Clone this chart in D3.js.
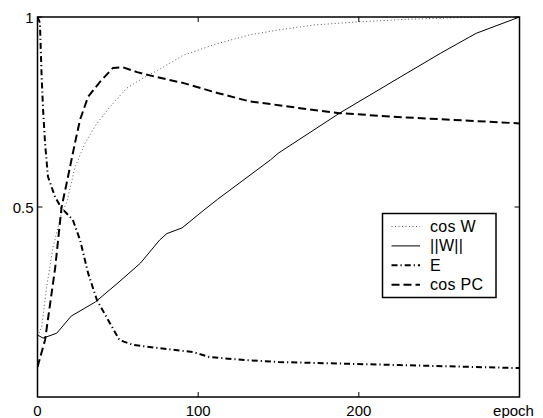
<!DOCTYPE html>
<html>
<head>
<meta charset="utf-8">
<script src="https://cdn.jsdelivr.net/npm/d3@7"></script>
<style>
  body { margin: 0; background: #fff; }
  text { font-family: "Liberation Sans", Arial, sans-serif; fill: #000; }
</style>
</head>
<body>
<svg id="chart" width="543" height="418"></svg>
<script>
// ---- data ----
const cosWEpoch = [0, 2.6, 5.7, 9.7, 15, 18, 23.4, 29.6, 37, 45, 55.6, 66, 75, 91, 112, 132, 150, 172, 199, 230, 268, 300];
const cosWVal   = [0.16, 0.184, 0.29, 0.395, 0.484, 0.51, 0.605, 0.668, 0.72, 0.763, 0.813, 0.84, 0.86, 0.90, 0.93, 0.953, 0.966, 0.979, 0.987, 0.994, 0.999, 1.0];

const normWEpoch = [0, 3.5, 12, 21, 36, 50, 64, 76, 80.5, 90, 103, 112, 145, 150, 188, 225, 251, 273, 300];
const normWVal   = [0.163, 0.155, 0.168, 0.213, 0.25, 0.30, 0.352, 0.413, 0.43, 0.445, 0.49, 0.52, 0.624, 0.642, 0.747, 0.84, 0.905, 0.957, 1.0];

const eEpoch = [0, 1.5, 2.6, 3.5, 4.7, 6.5, 11, 15, 22, 26.5, 31.5, 37, 45, 51, 59.5, 75, 97, 107, 130, 150, 225, 300];
const eVal   = [1.0, 0.985, 0.84, 0.755, 0.668, 0.58, 0.526, 0.497, 0.466, 0.413, 0.326, 0.255, 0.195, 0.15, 0.137, 0.129, 0.118, 0.105, 0.097, 0.092, 0.084, 0.076];

const cosPCEpoch = [0, 4.7, 11, 15, 18, 23.4, 26.5, 31.5, 39, 47, 53, 62, 74, 91, 112, 132, 150, 172, 188, 224, 300];
const cosPCVal   = [0.079, 0.15, 0.34, 0.5, 0.56, 0.67, 0.73, 0.79, 0.83, 0.866, 0.868, 0.855, 0.842, 0.826, 0.80, 0.778, 0.768, 0.755, 0.747, 0.737, 0.72];

const xTicks = [0, 100, 200, 300];
const xTickLabels = ["0", "100", "200", "epoch"];
const yTicks = [0.5, 1];
const yTickLabels = ["0.5", "1"];

const seriesNames = ["cos W", "||W||", "E", "cos PC"];

// ---- layout ----
const svg = d3.select("#chart");
const plotLeft = 37.5, plotRight = 519.5, plotTop = 17, plotBottom = 397;

const x = d3.scaleLinear().domain([0, 300]).range([plotLeft, plotRight]);
const y = d3.scaleLinear().domain([0, 1]).range([plotBottom, plotTop]);

// line styles, in legend order
const styles = [
    { width: 1,   dash: "1,2.5",      colour: "#555" },
    { width: 1,   dash: null,         colour: "#000" },
    { width: 2,   dash: "6,3,1.2,3",  colour: "#000" },
    { width: 2,   dash: "8,4",        colour: "#000" }
];

const series = [
    d3.zip(cosWEpoch, cosWVal),
    d3.zip(normWEpoch, normWVal),
    d3.zip(eEpoch, eVal),
    d3.zip(cosPCEpoch, cosPCVal)
];

svg.append("clipPath").attr("id", "plotClip")
    .append("rect")
    .attr("x", plotLeft).attr("y", plotTop)
    .attr("width", plotRight - plotLeft).attr("height", plotBottom - plotTop);

const line = d3.line().x(d => x(d[0])).y(d => y(d[1]));

svg.append("g")
    .attr("clip-path", "url(#plotClip)")
    .selectAll("path")
    .data(series)
    .enter()
    .append("path")
    .attr("d", line)
    .attr("fill", "none")
    .attr("stroke", (d, i) => styles[i].colour)
    .attr("stroke-width", (d, i) => styles[i].width)
    .attr("stroke-dasharray", (d, i) => styles[i].dash);

// frame
svg.append("rect")
    .attr("x", plotLeft).attr("y", plotTop)
    .attr("width", plotRight - plotLeft).attr("height", plotBottom - plotTop)
    .attr("fill", "none")
    .attr("stroke", "#000")
    .attr("stroke-width", 1.5);

// inward ticks on all four sides
const tickLen = 5;
const ticks = svg.append("g").attr("stroke", "#000").attr("stroke-width", 1);
xTicks.forEach(t => {
    ticks.append("line").attr("x1", x(t)).attr("x2", x(t)).attr("y1", plotBottom).attr("y2", plotBottom - tickLen);
    ticks.append("line").attr("x1", x(t)).attr("x2", x(t)).attr("y1", plotTop).attr("y2", plotTop + tickLen);
});
yTicks.forEach(t => {
    ticks.append("line").attr("x1", plotLeft).attr("x2", plotLeft + tickLen).attr("y1", y(t)).attr("y2", y(t));
    ticks.append("line").attr("x1", plotRight).attr("x2", plotRight - tickLen).attr("y1", y(t)).attr("y2", y(t));
});

// tick labels
svg.append("g").selectAll("text")
    .data(xTicks)
    .enter()
    .append("text")
    .attr("x", (d, i) => i === xTicks.length - 1 ? x(d) - 6 : x(d))
    .attr("y", 416)
    .attr("text-anchor", "middle")
    .attr("font-size", 15)
    .text((d, i) => xTickLabels[i]);

svg.append("g").selectAll("text")
    .data(yTicks)
    .enter()
    .append("text")
    .attr("x", plotLeft - 4)
    .attr("y", d => y(d) + 6)
    .attr("text-anchor", "end")
    .attr("font-size", 15)
    .text((d, i) => yTickLabels[i]);

// legend
const legend = svg.append("g");
legend.append("rect")
    .attr("x", 382.5).attr("y", 213.5)
    .attr("width", 113.5).attr("height", 84)
    .attr("fill", "#fff")
    .attr("stroke", "#000")
    .attr("stroke-width", 1.5);

seriesNames.forEach((name, i) => {
    const ly = 226.5 + i * 19.4;
    legend.append("line")
        .attr("x1", 391.5).attr("x2", 420)
        .attr("y1", ly).attr("y2", ly)
        .attr("stroke", styles[i].colour)
        .attr("stroke-width", styles[i].width)
        .attr("stroke-dasharray", styles[i].dash);
    legend.append("text")
        .attr("x", 430)
        .attr("y", ly + 5.5)
        .attr("font-size", 16)
        .attr("letter-spacing", 0.3)
        .text(name);
});
</script>
</body>
</html>
